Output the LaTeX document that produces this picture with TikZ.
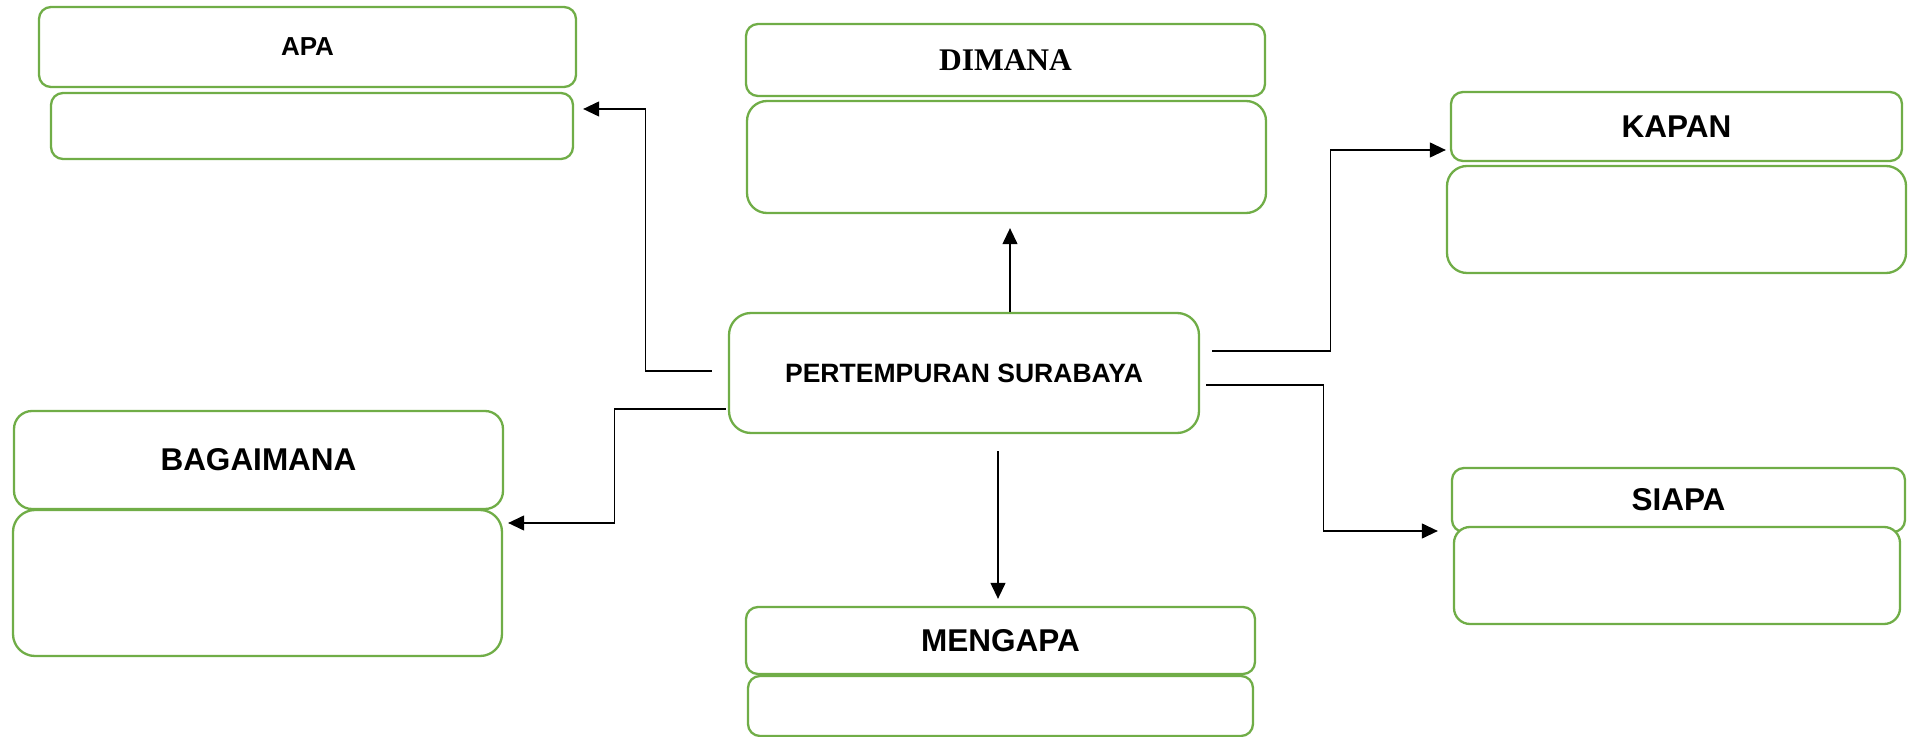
\documentclass[tikz,border=0pt]{standalone}
\usepackage{fontspec}
\setmainfont{Liberation Sans}
\newfontfamily\timesfont{Liberation Serif}
\usetikzlibrary{arrows.meta,calc}
\definecolor{boxgreen}{RGB}{112,173,71}
\begin{document}
\begin{tikzpicture}[x=0.5pt,y=-0.5pt,
  box/.style={draw=boxgreen, line width=1.15pt, fill=white, inner sep=0pt, rounded corners=6pt},
  big/.style={font=\bfseries\fontsize{15.75}{18}\selectfont},
  small/.style={font=\bfseries\fontsize{13}{15}\selectfont},
  arr/.style={draw=black, line width=0.6pt, -{Triangle[length=8pt,width=7.5pt]}},
  conn/.style={draw=black, line width=0.6pt}
]
\useasboundingbox (0,0) rectangle (1912,737);

% APA
\node[box, small, minimum width=268.5pt, minimum height=40pt] (apah) at (307.5,47) {APA};
\node[box, minimum width=261pt, minimum height=33pt] (apab) at (312,126) {};
% DIMANA
\node[box, minimum width=259.5pt, minimum height=36pt, font=\timesfont\bfseries\fontsize{15.75}{18}\selectfont] (dimh) at (1005.5,60) {DIMANA};
\node[box, rounded corners=10pt, minimum width=259.5pt, minimum height=56pt] (dimb) at (1006.5,157) {};
% KAPAN
\node[box, big, minimum width=225.5pt, minimum height=34.5pt] (kaph) at (1676.5,126.5) {KAPAN};
\node[box, rounded corners=10pt, minimum width=229.5pt, minimum height=53.5pt] (kapb) at (1676.5,219.5) {};
% centre
\node[box, rounded corners=11pt, font=\bfseries\fontsize{13.27}{15}\selectfont, minimum width=235pt, minimum height=60pt] (c) at (964,373) {PERTEMPURAN SURABAYA};
% SIAPA
\node[box, big, minimum width=226.5pt, minimum height=32pt] (sih) at (1678.5,500) {\raisebox{-1pt}{SIAPA}};
\node[box, rounded corners=8pt, minimum width=223pt, minimum height=48.5pt] (sib) at (1677,575.5) {};
% BAGAIMANA
\node[box, big, rounded corners=9pt, minimum width=244.5pt, minimum height=49pt] (bagh) at (258.5,460) {BAGAIMANA};
\node[box, rounded corners=11pt, minimum width=244.5pt, minimum height=73pt] (bagb) at (257.5,583) {};
% MENGAPA
\node[box, big, minimum width=254.5pt, minimum height=33.5pt] (menh) at (1000.5,640.5) {MENGAPA};
\node[box, minimum width=252.5pt, minimum height=30pt] (menb) at (1000.5,706) {};

% connectors
\draw[arr] ([shift={(-16,-2)}]c.west) -- ++(-66,0) |- ([shift={(9,-17)}]apab.east);
\draw[arr] ($(c.north)+(46,0)$) -- ($(c.north |- dimb.south)+(46,14)$);
\draw[arr] ([shift={(12,-22)}]c.east) -- ++(118,0) |- ([shift={(-4,23.5)}]kaph.west);
\draw[arr] ([shift={(6,12)}]c.east) -- ++(117,0) |- ([shift={(-13,31)}]sih.west);
\draw[arr] ([shift={(-2,36)}]c.west) -- ++(-111,0) |- ([shift={(5,-60)}]bagb.east);
\draw[arr] ($(c.south)+(34,17)$) -- ($(c.south |- menh.north)+(34,-7)$);
\end{tikzpicture}
\end{document}
